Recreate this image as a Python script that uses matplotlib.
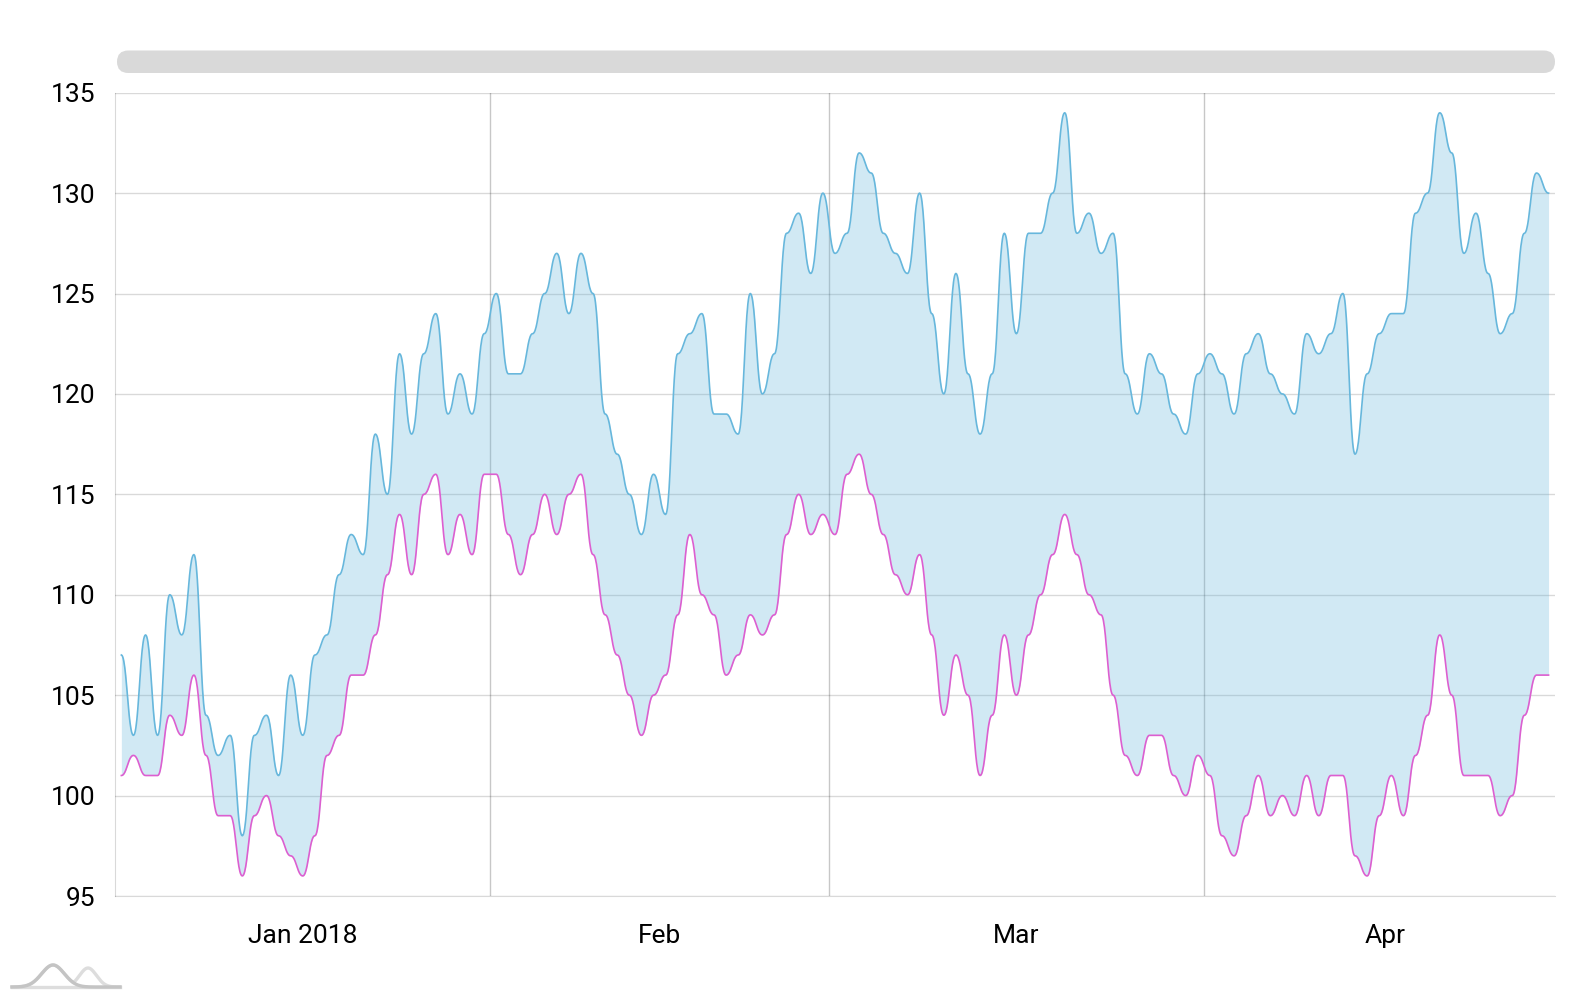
import numpy as np
import pandas as pd
import matplotlib
matplotlib.use("Agg")
import matplotlib.pyplot as plt
import matplotlib.dates as mdates
from matplotlib.patches import FancyBboxPatch

plt.rcParams["font.family"] = ["Roboto", "DejaVu Sans"]

# daily values, 1 Jan - 29 Apr 2018
dates = pd.date_range("2018-01-01", "2018-04-29", freq="D")
upper = [107, 103, 108, 103, 110, 108, 112, 104, 102, 103, 98, 103, 104, 101,
         106, 103, 107, 108, 111, 113, 112, 118, 115, 122, 118, 122, 124,
         119, 121, 119, 123, 125, 121, 121, 123, 125, 127, 124, 127, 125,
         119, 117, 115, 113, 116, 114, 122, 123, 124, 119, 119, 118, 125,
         120, 122, 128, 129, 126, 130, 127, 128, 132, 131, 128, 127, 126,
         130, 124, 120, 126, 121, 118, 121, 128, 123, 128, 128, 130, 134,
         128, 129, 127, 128, 121, 119, 122, 121, 119, 118, 121, 122, 121, 119,
         122, 123, 121, 120, 119, 123, 122, 123, 125, 117, 121, 123, 124,
         124, 129, 130, 134, 132, 127, 129, 126, 123, 124, 128, 131, 130]
lower = [101, 102, 101, 101, 104, 103, 106, 102, 99, 99, 96, 99, 100, 98,
         97, 96, 98, 102, 103, 106, 106, 108, 111, 114, 111, 115, 116,
         112, 114, 112, 116, 116, 113, 111, 113, 115, 113, 115, 116, 112,
         109, 107, 105, 103, 105, 106, 109, 113, 110, 109, 106, 107, 109,
         108, 109, 113, 115, 113, 114, 113, 116, 117, 115, 113, 111, 110,
         112, 108, 104, 107, 105, 101, 104, 108, 105, 108, 110, 112, 114,
         112, 110, 109, 105, 102, 101, 103, 103, 101, 100, 102, 101, 98, 97,
         99, 101, 99, 100, 99, 101, 99, 101, 101, 97, 96, 99, 101,
         99, 102, 104, 108, 105, 101, 101, 101, 99, 100, 104, 106, 106]

month_starts = ["2018-02-01", "2018-03-01", "2018-04-01"]
label_pos = ["2018-01-16 12:00", "2018-02-15 00:00", "2018-03-16 12:00", "2018-04-16 00:00"]
month_labels = ["Jan 2018", "Feb", "Mar", "Apr"]
y_ticks = [95, 100, 105, 110, 115, 120, 125, 130, 135]

BLUE = "#67b7dc"
PINK = "#dc5fd0"


def smooth(x, y, n=24, a=0.45):
    # horizontal-tangent bezier between points (like amCharts tensionX)
    xs, ys = [], []
    t = np.linspace(0, 1, n, endpoint=False)
    b0, b1, b2, b3 = (1 - t) ** 3, 3 * t * (1 - t) ** 2, 3 * t ** 2 * (1 - t), t ** 3
    for k in range(len(x) - 1):
        x0, x1, y0, y1 = x[k], x[k + 1], y[k], y[k + 1]
        dx = x1 - x0
        xs.append(b0 * x0 + b1 * (x0 + a * dx) + b2 * (x1 - a * dx) + b3 * x1)
        ys.append((b0 + b1) * y0 + (b2 + b3) * y1)
    xs.append([x[-1]])
    ys.append([y[-1]])
    return np.concatenate(xs), np.concatenate(ys)


x = mdates.date2num(dates) + 0.5
sx, su = smooth(x, np.array(upper, float))
_, sl = smooth(x, np.array(lower, float))

fig = plt.figure(figsize=(15.86, 10), dpi=100)
ax = fig.add_axes([0.0727, 0.104, 0.9075, 0.8033])

ax.fill_between(sx, sl, su, color=BLUE, alpha=0.3, lw=0, zorder=2)
ax.plot(sx, su, color=BLUE, lw=1.2, zorder=3)
ax.plot(sx, sl, color=PINK, lw=1.2, zorder=3)

ax.set_xlim(mdates.date2num(pd.Timestamp("2018-01-01")),
            mdates.date2num(pd.Timestamp("2018-04-30")))
ax.set_ylim(95, 135)

ax.set_yticks(y_ticks)
ax.grid(axis="y", color="#000000", alpha=0.15, lw=1, zorder=0)
for m in month_starts:
    ax.axvline(mdates.date2num(pd.Timestamp(m)), color="#000000", alpha=0.22, lw=1, zorder=1)

ax.set_xticks(mdates.date2num(pd.to_datetime(label_pos)))
ax.set_xticklabels(month_labels)
ax.tick_params(axis="y", length=0, pad=14.5, labelsize=19)
ax.tick_params(axis="x", length=0, pad=20, labelsize=19)

for s in ["top", "right"]:
    ax.spines[s].set_visible(False)
for s in ["left", "bottom"]:
    ax.spines[s].set_color("#000000")
    ax.spines[s].set_alpha(0.15)

# scrollbar
fig.patches.append(FancyBboxPatch((1.17, 9.27), 14.38, 0.225,
                                  boxstyle="round,pad=0,rounding_size=0.1125",
                                  transform=fig.dpi_scale_trans,
                                  facecolor="#d9d9d9", edgecolor="none"))

# small logo bottom left
lx = np.linspace(0.12, 1.2, 300)
base = 0.13
big = base + 0.22 * np.exp(-((lx - 0.53) / 0.16) ** 2)
small = base + 0.19 * np.exp(-((lx - 0.88) / 0.12) ** 2)
fig.add_artist(plt.Line2D(lx, np.full_like(lx, base), color="#dddddd", lw=2.4,
                          transform=fig.dpi_scale_trans))
fig.add_artist(plt.Line2D(lx, np.maximum(big, small), color="#dddddd", lw=2.4,
                          transform=fig.dpi_scale_trans))
fig.add_artist(plt.Line2D(lx, big, color="#c4c4c4", lw=2.4,
                          transform=fig.dpi_scale_trans))

fig.savefig("out.png", dpi=100)
